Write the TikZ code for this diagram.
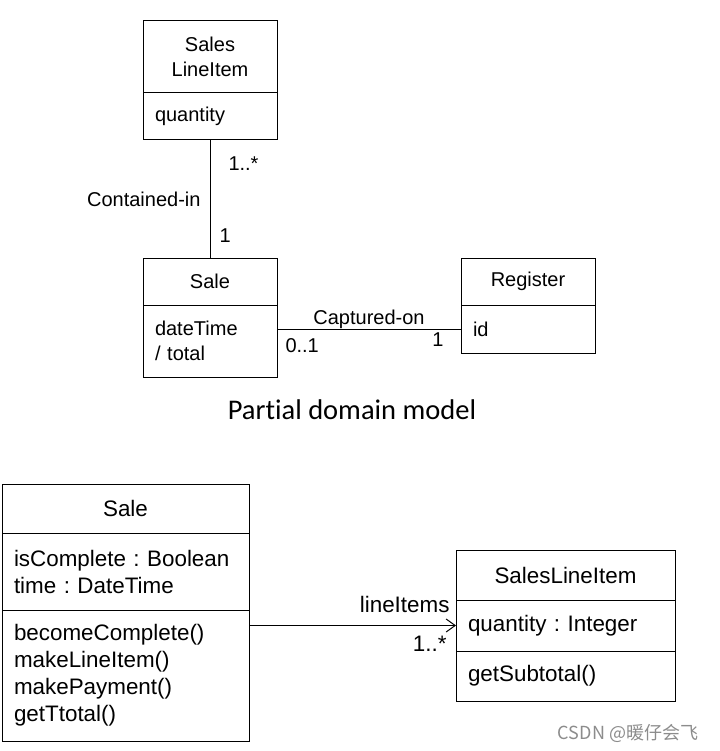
\documentclass[tikz,border=0pt]{standalone}
\usepackage{fontspec}
\setmainfont{Liberation Sans}
\newfontfamily\capfont[Ligatures={NoCommon}]{Carlito}
\newfontfamily\cjk{Noto Sans CJK SC}
\usetikzlibrary{positioning, arrows.meta}
\frenchspacing
\tikzset{
cmp/.style={draw, line width=1pt, anchor=north west, inner xsep=12pt, inner ysep=0pt, outer sep=0pt},
small/.style={font=\fontsize{20}{25.5}\selectfont},
big/.style={font=\fontsize{22.4}{27}\selectfont},
lbl/.style={inner sep=0pt},
assoc/.style={line width=1pt},
}

\begin{document}
\begin{tikzpicture}[x=1pt, y=-1pt]
            \useasboundingbox (0,0) rectangle (719,751);
            % partial domain model
            \node[cmp, small, align=center, text width=110pt, minimum height=72pt] (sliHead) at (143,21) {Sales\\LineItem};
            \node[cmp, small, align=left, text width=110pt, minimum height=47pt, below=0pt of sliHead] (sliAttr) {quantity};
            \node[cmp, small, align=center, text width=110pt, minimum height=47pt] (saleHead) at (143,258) {Sale};
            \node[cmp, small, align=left, text width=110pt, minimum height=72pt, below=0pt of saleHead] (saleAttr) {dateTime\\/ total};
            \node[cmp, small, align=center, text width=110pt, minimum height=47pt] (regHead) at (461,258) {Register};
            \node[cmp, small, align=left, text width=110pt, minimum height=48pt, below=0pt of regHead] (regAttr) {id};
            \draw[assoc] (sliAttr) -- (saleHead)
                node[lbl, small, pos=0.5, left=9pt] (contLbl) {Contained-in}
                node[lbl, small, pos=0.2, right=18pt] (contMany) {1..*}
                node[lbl, small, pos=0.81, right=9pt] (contOne) {1};
            \draw[assoc] (saleAttr.east |- regAttr.west) -- (regAttr.west)
                node[lbl, small, pos=0.5, above=0pt] (captLbl) {Captured-on}
                node[lbl, small, pos=0, below right=9pt and 8pt] (captOpt) {0..1}
                node[lbl, small, pos=1, below left=3pt and 17pt] (captOne) {1};
            \node[lbl, font=\capfont\fontsize{28.5}{30}\selectfont] (caption) at (352,410) {Partial domain model};
            % design class diagram
            \node[cmp, big, align=center, text width=223pt, minimum height=49pt] (saleName) at (2,484) {Sale};
            \node[cmp, big, align=left, text width=223pt, minimum height=77pt, below=0pt of saleName] (saleVars) {isComplete : Boolean\\time : DateTime};
            \node[cmp, big, align=left, text width=223pt, minimum height=131pt, below=0pt of saleVars] (saleOps) {becomeComplete()\\makeLineItem()\\makePayment()\\getTtotal()};
            \node[cmp, big, align=center, text width=195pt, minimum height=50pt] (sliName) at (456,550) {SalesLineItem};
            \node[cmp, big, align=left, text width=195pt, minimum height=51pt, below=0pt of sliName] (sliVars) {quantity : Integer};
            \node[cmp, big, align=left, text width=195pt, minimum height=50pt, below=0pt of sliVars] (sliOps) {getSubtotal()};
            \draw[assoc, -{Straight Barb[length=9pt, width=13pt]}] (saleOps.east |- sliVars.west) -- (sliVars.west)
                node[lbl, big, pos=1, above left=12pt and 6pt] (itemsLbl) {lineItems}
                node[lbl, big, pos=1, below left=10pt and 9pt] (itemsMany) {1..*};
            \node[lbl, text=black!45, font=\cjk\fontsize{18}{18}\selectfont] (mark) at (628,733) {CSDN @暖仔会飞};
        \end{tikzpicture}
\end{document}
